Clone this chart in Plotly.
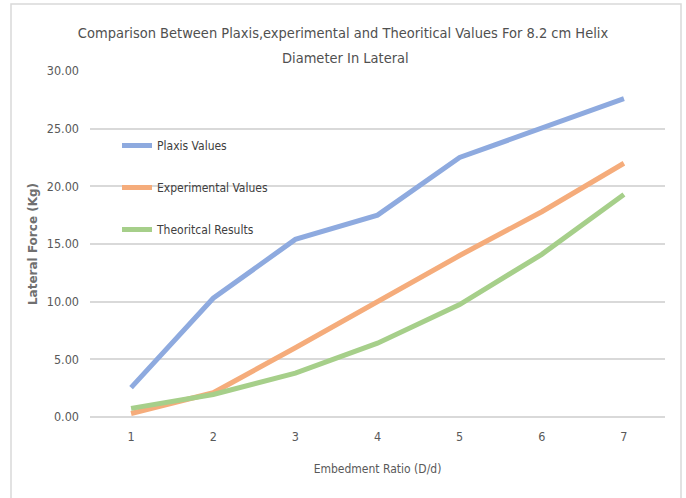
import plotly.graph_objects as go

x_vals = [1, 2, 3, 4, 5, 6, 7]
plaxis = [2.55, 10.3, 15.4, 17.5, 22.5, 25.1, 27.6]
experimental = [0.3, 2.1, 6.0, 10.0, 14.0, 17.8, 22.0]
theoretical = [0.75, 1.95, 3.8, 6.4, 9.75, 14.1, 19.3]
series_names = ["Plaxis Values", "Experimental Values", "Theoritcal Results"]
colors = ["#8eaadf", "#f5ac7b", "#a6cf8a"]
title_lines = ["Comparison Between Plaxis,experimental and Theoritical Values For 8.2 cm Helix",
               "Diameter In Lateral"]

W, H = 686, 498
L, R, T, B = 90, 21, 71, 81
pw, ph = W - L - R, H - T - B
NARROW = "DejaVu Sans Condensed, Liberation Sans Narrow, Arial Narrow, sans-serif"
TITLE_FONT = dict(family=NARROW, size=14.5, color="#505050")

fig = go.Figure()
for i, (name, ys) in enumerate(zip(series_names, [plaxis, experimental, theoretical])):
    fig.add_trace(go.Scatter(
        x=x_vals, y=ys, mode="lines", name=name,
        line=dict(color=colors[i], width=5),
        legendgroup=str(i),
    ))

def px_to_paper_x(px):
    return (px - L) / pw

def px_to_paper_y(py):
    return (H - B - py) / ph

fig.add_shape(type="rect", xref="paper", yref="paper",
              x0=px_to_paper_x(11), x1=px_to_paper_x(681),
              y0=px_to_paper_y(505), y1=px_to_paper_y(4),
              line=dict(color="#d9d9d9", width=1.5), layer="below")

fig.add_annotation(text=title_lines[1], xref="paper", yref="paper",
                   x=px_to_paper_x(345), y=px_to_paper_y(58),
                   xanchor="center", yanchor="middle", showarrow=False,
                   font=TITLE_FONT)

fig.update_layout(
    width=W, height=H,
    margin=dict(l=L, r=R, t=T, b=B),
    paper_bgcolor="white", plot_bgcolor="white",
    title=dict(
        text=title_lines[0],
        x=0.5, xanchor="center", xref="container",
        y=1 - 33 / H, yanchor="middle", yref="container",
        font=TITLE_FONT,
    ),
    font=dict(family=NARROW, color="#595959"),
    showlegend=True,
    legend=dict(
        x=px_to_paper_x(117), y=px_to_paper_y(131), xanchor="left", yanchor="top",
        bgcolor="rgba(0,0,0,0)", tracegroupgap=23,
        font=dict(family=NARROW, size=12, color="#404040"),
    ),
    xaxis=dict(
        range=[0.5, 7.5], tickvals=x_vals, ticktext=[str(v) for v in x_vals],
        showgrid=False, zeroline=False, showline=False, ticks="",
        tickfont=dict(size=12.5, color="#595959"),
        ticklabelstandoff=10,
        title=dict(text="Embedment Ratio (D/d)", font=dict(size=12, color="#595959"), standoff=22),
    ),
    yaxis=dict(
        range=[0, 30], dtick=5, tickformat=".2f",
        showgrid=True, gridcolor="#d9d9d9", gridwidth=1.5,
        zeroline=True, zerolinecolor="#d9d9d9", zerolinewidth=1.5,
        showline=False, ticks="",
        tickfont=dict(size=12.5, color="#595959"),
        ticklabelstandoff=10,
        title=dict(text="<b>Lateral Force (Kg)</b>", font=dict(family="DejaVu Sans, Verdana, sans-serif", size=12, color="#707070"), standoff=6),
    ),
)

fig.write_html("out.html")
